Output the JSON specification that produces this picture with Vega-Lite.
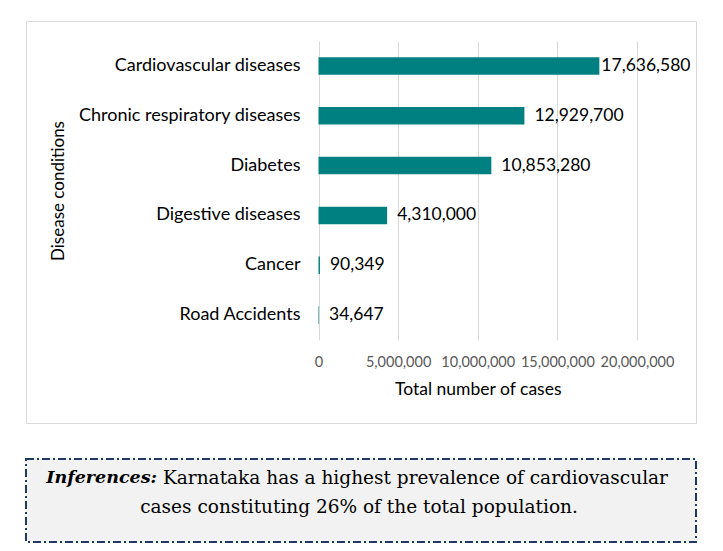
{
  "$schema": "https://vega.github.io/schema/vega-lite/v6.json",
  "background": "white",
  "padding": {"left": 25, "top": 20, "right": 0, "bottom": 0},
  "spacing": 34,
  "config": {"font": "Lato", "view": {"stroke": null}},
  "vconcat": [
    {
      "width": 670,
      "height": 402,
      "view": {"stroke": "#d9d9d9", "strokeWidth": 1, "fill": "white"},
      "data": {
        "values": [
          {"condition": "Cardiovascular diseases", "cases": 17636580},
          {"condition": "Chronic respiratory diseases", "cases": 12929700},
          {"condition": "Diabetes", "cases": 10853280},
          {"condition": "Digestive diseases", "cases": 4310000},
          {"condition": "Cancer", "cases": 90349},
          {"condition": "Road Accidents", "cases": 34647}
        ]
      },
      "encoding": {
        "y": {
          "field": "condition",
          "type": "nominal",
          "sort": null,
          "scale": {"range": [20, 319], "paddingInner": 0.65, "paddingOuter": 0.325},
          "axis": {
            "orient": "left",
            "offset": -274,
            "domain": false,
            "ticks": false,
            "grid": false,
            "labelPadding": 0,
            "labelLimit": 400,
            "labelFont": "Lato",
            "labelFontSize": 18,
            "labelColor": "#000000",
            "title": "Disease conditions",
            "titleFont": "Lato",
            "titleFontSize": 17,
            "titleFontWeight": "normal",
            "titleColor": "#000000",
            "titlePadding": 33
          }
        }
      },
      "layer": [
        {
          "mark": {"type": "bar", "color": "#008080"},
          "encoding": {
            "x": {
              "field": "cases",
              "type": "quantitative",
              "scale": {"domain": [0, 20000000], "range": [292.5, 611], "nice": false, "zero": true},
              "axis": {
                "orient": "top",
                "values": [0, 5000000, 10000000, 15000000, 20000000],
                "format": ",d",
                "domain": false,
                "ticks": false,
                "grid": true,
                "gridColor": "#d9d9d9",
                "gridWidth": 1,
                "labelFlush": false,
                "labelOverlap": false,
                "labelBaseline": "middle",
                "labelPadding": -341,
                "labelFont": "Lato",
                "labelFontSize": 14.5,
                "labelColor": "#595959",
                "title": "Total number of cases",
                "titleFont": "Lato",
                "titleFontSize": 17.5,
                "titleFontWeight": "normal",
                "titleColor": "#000000",
                "titleBaseline": "middle",
                "titleY": 368
              }
            }
          }
        },
        {
          "transform": [{"filter": "datum.cases < 15000000"}],
          "mark": {"type": "text", "align": "left", "baseline": "middle", "dx": 10, "fontSize": 17.5, "color": "#000000", "font": "Lato"},
          "encoding": {
            "x": {"field": "cases", "type": "quantitative"},
            "text": {"field": "cases", "type": "quantitative", "format": ",d"}
          }
        },
        {
          "transform": [{"filter": "datum.cases >= 15000000"}],
          "mark": {"type": "text", "align": "left", "baseline": "middle", "dx": 2, "fontSize": 17.5, "color": "#000000", "font": "Lato"},
          "encoding": {
            "x": {"field": "cases", "type": "quantitative"},
            "text": {"field": "cases", "type": "quantitative", "format": ",d"}
          }
        }
      ]
    },
    {
      "width": 670,
      "height": 83,
      "view": {"stroke": "#1f3864", "strokeWidth": 2, "strokeDash": [8, 3, 2, 3], "fill": "#f2f2f2"},
      "data": {
        "values": [
          {"part": "lead", "text": "Inferences:"},
          {"part": "rest", "text": "Karnataka  has a highest prevalence of cardiovascular"},
          {"part": "line2", "text": "cases constituting  26% of the total population."}
        ]
      },
      "layer": [
        {
          "transform": [{"filter": "datum.part === 'lead'"}],
          "mark": {"type": "text", "align": "right", "baseline": "middle", "dx": -204, "dy": -23, "font": "DejaVu Serif", "fontSize": 17.5, "fontStyle": "italic", "fontWeight": "bold", "color": "#000000"},
          "encoding": {"text": {"field": "text", "type": "nominal"}}
        },
        {
          "transform": [{"filter": "datum.part === 'rest'"}],
          "mark": {"type": "text", "align": "left", "baseline": "middle", "dx": -198, "dy": -23, "font": "DejaVu Serif", "fontSize": 18.5, "color": "#000000"},
          "encoding": {"text": {"field": "text", "type": "nominal"}}
        },
        {
          "transform": [{"filter": "datum.part === 'line2'"}],
          "mark": {"type": "text", "align": "center", "baseline": "middle", "dx": -2, "dy": 6, "font": "DejaVu Serif", "fontSize": 18.5, "color": "#000000"},
          "encoding": {"text": {"field": "text", "type": "nominal"}}
        }
      ]
    }
  ]
}
